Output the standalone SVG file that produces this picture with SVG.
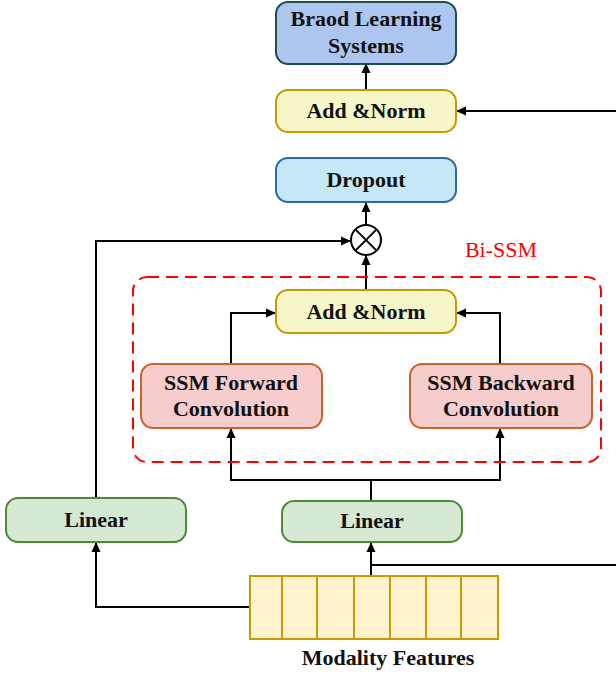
<svg xmlns="http://www.w3.org/2000/svg" width="616" height="677" viewBox="0 0 616 677">
<style>
.t{font-family:"Liberation Serif","Times New Roman",serif;font-weight:bold;font-size:22px;fill:#111;text-anchor:middle}
.c{fill:none;stroke:#000;stroke-width:2}
.bx{stroke-width:2}
</style>
<defs>
<marker id="ah" markerWidth="10" markerHeight="10" refX="9" refY="5" orient="auto" markerUnits="userSpaceOnUse">
<path d="M0,0.5 L10,5 L0,9.5 Z" fill="#000"/>
</marker>
</defs>
<rect width="616" height="677" fill="#fff"/>
<g id="connectors">
<path class="c" d="M366,90 V64" marker-end="url(#ah)"/>
<path class="c" d="M616,111 H457" marker-end="url(#ah)"/>
<path class="c" d="M366,225 V203" marker-end="url(#ah)"/>
<path class="c" d="M96,498 V241 H350" marker-end="url(#ah)"/>
<path class="c" d="M366,290 V256" marker-end="url(#ah)"/>
<path class="c" d="M231,364 V313 H275" marker-end="url(#ah)"/>
<path class="c" d="M500,364 V313 H457" marker-end="url(#ah)"/>
<path class="c" d="M371,501 V480 H231 V429" marker-end="url(#ah)"/>
<path class="c" d="M371,480 H500 V429" marker-end="url(#ah)"/>
<path class="c" d="M371,576 V543" marker-end="url(#ah)"/>
<path class="c" d="M371,565 H616"/>
<path class="c" d="M250,607 H96 V543" marker-end="url(#ah)"/>
</g>
<g id="bls">
<rect class="bx" x="276" y="2" width="180" height="62" rx="12" fill="#adc6f0" stroke="#1d4d4d"/>
<text class="t" x="366" y="26">Braod Learning</text>
<text class="t" x="366" y="53">Systems</text>
</g>
<g id="addnorm-top">
<rect class="bx" x="276" y="90" width="180" height="42" rx="12" fill="#f6f6c8" stroke="#c79a00"/>
<text class="t" x="366" y="118">Add &amp;Norm</text>
</g>
<g id="dropout">
<rect class="bx" x="276" y="158" width="180" height="44" rx="12" fill="#c4e8f6" stroke="#3465a8"/>
<text class="t" x="366" y="187">Dropout</text>
</g>
<g id="multiply">
<circle cx="366" cy="240" r="15" fill="#fff" stroke="#000" stroke-width="2"/>
<path d="M355.4,229.4 L376.6,250.6 M376.6,229.4 L355.4,250.6" stroke="#000" stroke-width="2"/>
</g>
<g id="bi-ssm">
<rect x="133" y="277" width="468" height="185" rx="14" fill="none" stroke="#ff0000" stroke-width="2" stroke-dasharray="12,7"/>
<text x="501" y="257" font-family="'Liberation Serif','Times New Roman',serif" font-size="22" fill="#ff0000" text-anchor="middle">Bi-SSM</text>
</g>
<g id="addnorm-inner">
<rect class="bx" x="276" y="290" width="180" height="43" rx="12" fill="#f6f6c8" stroke="#c79a00"/>
<text class="t" x="366" y="319">Add &amp;Norm</text>
</g>
<g id="ssm-forward">
<rect class="bx" x="141" y="364" width="181" height="64" rx="12" fill="#f6cccc" stroke="#c8652a"/>
<text class="t" x="231" y="390">SSM Forward</text>
<text class="t" x="231" y="416">Convolution</text>
</g>
<g id="ssm-backward">
<rect class="bx" x="410" y="364" width="182" height="64" rx="12" fill="#f6cccc" stroke="#c8652a"/>
<text class="t" x="501" y="390">SSM Backward</text>
<text class="t" x="501" y="416">Convolution</text>
</g>
<g id="linear-left">
<rect class="bx" x="6" y="498" width="180" height="44" rx="12" fill="#d5e8d4" stroke="#4f8a35"/>
<text class="t" x="96" y="527">Linear</text>
</g>
<g id="linear-mid">
<rect class="bx" x="282" y="501" width="180" height="41" rx="12" fill="#d5e8d4" stroke="#4f8a35"/>
<text class="t" x="372" y="528">Linear</text>
</g>
<g id="modality-features">
<rect x="250" y="576" width="248" height="63" fill="#fff2cc" stroke="#c79a00" stroke-width="2"/>
<path d="M282,576 V639 M317,576 V639 M354,576 V639 M390,576 V639 M426,576 V639 M461,576 V639" stroke="#c79a00" stroke-width="2"/>
<text class="t" x="388" y="665">Modality Features</text>
</g>
</svg>
